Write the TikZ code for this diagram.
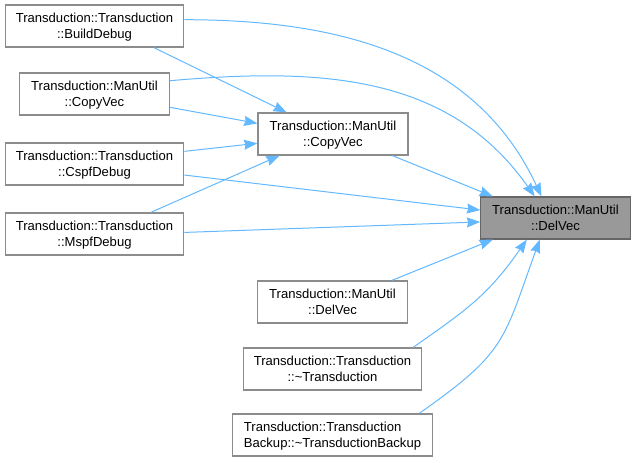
\documentclass[tikz,border=0pt]{standalone}
\usepackage{fontspec}
\setmainfont{Liberation Sans}
\usetikzlibrary{arrows.meta}
\definecolor{callblue}{RGB}{99,184,255}
\definecolor{boxgray}{RGB}{140,140,140}
\definecolor{targetgray}{RGB}{153,153,153}
\definecolor{targetline}{RGB}{102,102,102}

\tikzset{
    func/.style={draw=boxgray, line width=0.9pt, fill=white, inner sep=0pt,
                 minimum height=31.5pt, align=center, text depth=0pt,
                 font=\fontsize{9.8}{12}\selectfont},
    target/.style={func, draw=targetline, fill=targetgray},
    call/.style={callblue, line width=0.75pt,
                 -{Stealth[length=10pt, width=7.5pt, inset=1pt]}}
}

\begin{document}
\begin{tikzpicture}[x=0.75pt, y=-0.75pt]
    \useasboundingbox (0,0) rectangle (636,463);

    % Callers on the left
    \node[func, minimum width=134pt] (builddebug) at (94.5,26)
        {Transduction::Transduction\\::BuildDebug};
    \node[func, minimum width=112pt] (copyvecleft) at (94.5,94)
        {Transduction::ManUtil\\::CopyVec};
    \node[func, minimum width=134pt] (cspfdebug) at (94.5,164)
        {Transduction::Transduction\\::CspfDebug};
    \node[func, minimum width=134pt] (mspfdebug) at (94.5,234)
        {Transduction::Transduction\\::MspfDebug};

    % Middle column
    \node[func, minimum width=112.5pt] (copyvec) at (333,134)
        {Transduction::ManUtil\\::CopyVec};
    \node[func, minimum width=112pt] (delvecleft) at (332.5,302)
        {Transduction::ManUtil\\::DelVec};
    \node[func, minimum width=134pt] (destructor) at (332.5,369)
        {Transduction::Transduction\\::\textasciitilde Transduction};
    \node[func, minimum width=150pt, align=left] (backupdestructor) at (332.5,435)
        {Transduction::Transduction\\Backup::\textasciitilde TransductionBackup};

    % Called function
    \node[target, minimum width=112pt] (delvec) at (555.5,218)
        {Transduction::ManUtil\\::DelVec};

    % Straight calls
    \foreach \a/\aa/\b/\bb in {builddebug/-20/copyvec/155,
                               copyvecleft/-10/copyvec/172,
                               cspfdebug/8/copyvec/-173,
                               mspfdebug/21/copyvec/-158,
                               cspfdebug/-7/delvec/174,
                               mspfdebug/1/delvec/-177,
                               copyvec/-20/delvec/161,
                               delvecleft/20/delvec/-161} {
        \draw[call] (\a.\aa) -- (\b.\bb);
    }

    % Curved calls
    \draw[call] (builddebug.4) to[out=0, in=115] (delvec.123);
    \draw[call] (copyvecleft.10) to[out=5, in=125] (delvec.134);
    \draw[call] (destructor.15) to[out=35, in=-125, looseness=1.1] (delvec.-143);
    \draw[call] (backupdestructor.14) to[out=35, in=-110, looseness=1.3] (delvec.-126);

\end{tikzpicture}
\end{document}
